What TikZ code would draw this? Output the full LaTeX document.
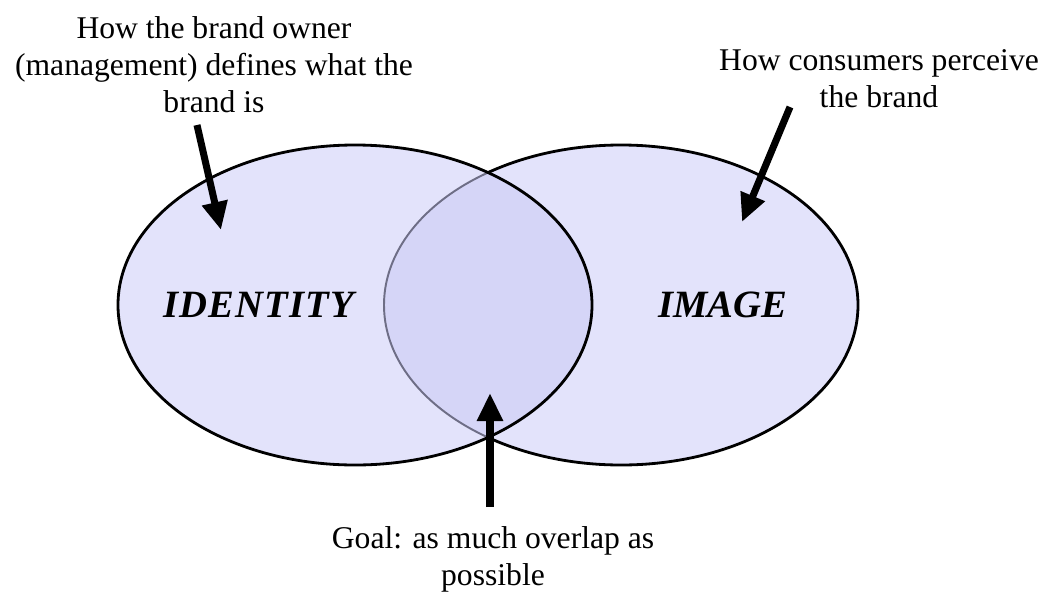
\documentclass[tikz,border=0pt]{standalone}
\usepackage{fontspec}
\setmainfont{Liberation Serif}
\usetikzlibrary{arrows.meta,positioning}
\definecolor{vnfill}{HTML}{E3E3FB}
\definecolor{vnover}{HTML}{D5D5F7}
\definecolor{vnedge}{HTML}{6E6E86}

\begin{document}
\begin{tikzpicture}[
  x=0.02cm, y=-0.02cm,
  note/.style={align=center, inner sep=0pt,
    font=\fontsize{18}{21}\selectfont},
  lbl/.style={inner sep=0pt,
    font=\fontsize{22}{26}\selectfont\bfseries\itshape},
  arr/.style={-{Triangle[length=16pt, width=14pt]}, line width=4pt},
  rim/.style={line width=1.6pt, draw=black},
]
  \useasboundingbox[fill=white] (0,0) rectangle (1061,592);

  % Ellipses
  \fill[vnfill] (355,305) ellipse [x radius=237, y radius=160];
  \fill[vnfill] (621,305) ellipse [x radius=237, y radius=160];
  \draw[rim] (621,305) ellipse [x radius=237, y radius=160];
  \begin{scope}
    \clip (355,305) ellipse [x radius=237, y radius=160];
    \fill[vnfill] (355,305) ellipse [x radius=237, y radius=160];
    \fill[vnover] (621,305) ellipse [x radius=237, y radius=160];
    \draw[line width=1.1pt, vnedge] (621,305) ellipse [x radius=237, y radius=160];
  \end{scope}
  \draw[rim] (355,305) ellipse [x radius=237, y radius=160];

  % Labels
  \node[lbl] (identity) at (259,305) {\addfontfeatures{LetterSpace=3}IDENTITY};
  \node[lbl] (image) at (723,305) {IMAGE};

  % Notes
  \node[note] (owner) at (214,65) {How the brand owner\\(management) defines what the\\brand is};
  \node[note] (consumer) at (879,79) {How consumers perceive\\the brand};
  \node[note] (goal) at (493,559) {Goal: as much overlap as\\possible};

  % Arrows
  \coordinate (ownerTail) at (197,125);
  \coordinate (ownerTip) at (221,230);
  \coordinate (consumerTail) at (790,107);
  \coordinate (consumerTip) at (742,222);
  \coordinate (goalTail) at (490,507);
  \coordinate (goalTip) at (490,393);
  \draw[arr] (ownerTail) -- (ownerTip);
  \draw[arr] (consumerTail) -- (consumerTip);
  \draw[arr] (goalTail) -- (goalTip);
\end{tikzpicture}
\end{document}
